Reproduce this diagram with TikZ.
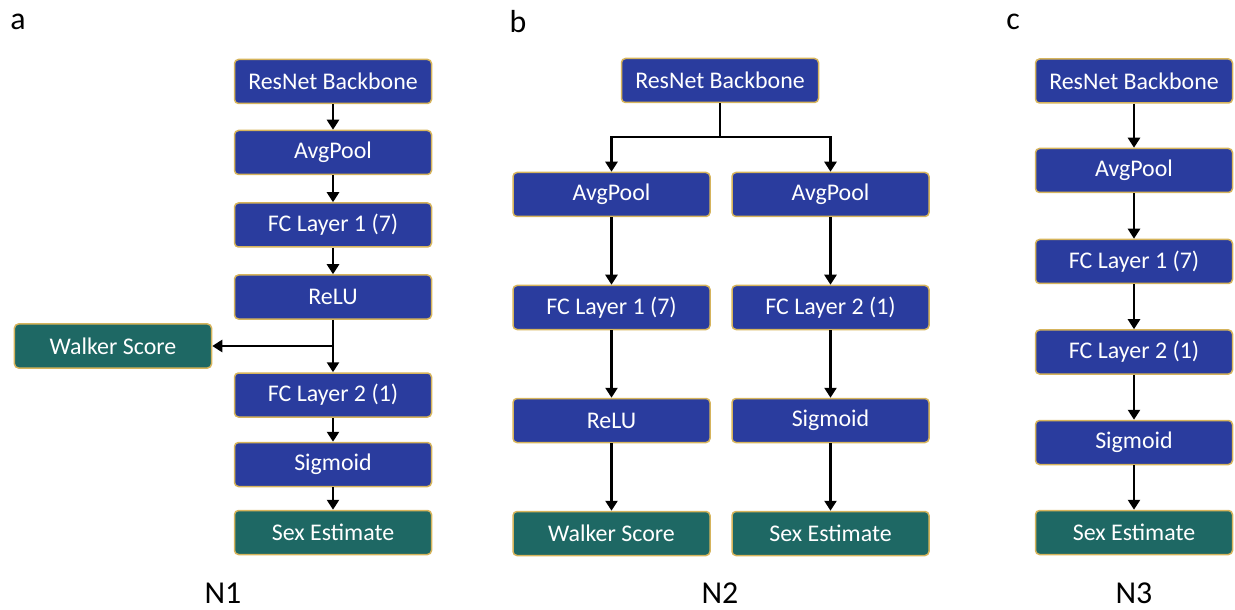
\documentclass[tikz,border=0pt]{standalone}
\usepackage{fontspec}
\setmainfont{Carlito}
\usetikzlibrary{arrows.meta}
\definecolor{boxblue}{RGB}{42,60,158}
\definecolor{boxteal}{RGB}{30,104,100}
\definecolor{boxrim}{RGB}{214,180,92}
\tikzset{
  blk/.style={draw=boxrim, line width=1.5bp, rounded corners=4bp, text=white,
    minimum height=44bp, minimum width=197bp, inner sep=0pt, font=\fontsize{24}{26}\selectfont},
  bbox/.style={blk, fill=boxblue},
  tbox/.style={blk, fill=boxteal},
  arr/.style={line width=2.5bp, -{Triangle[width=12bp,length=10bp]}},
  ln/.style={line width=2.5bp},
  panel/.style={font=\fontsize{32}{34}\selectfont, text=black},
}
\begin{document}
\begin{tikzpicture}[x=1bp,y=-1bp]
\useasboundingbox (0,0) rectangle (1235,610);
% panel a
\node[panel] (la) at (18,22) {a};
\node[bbox] (a1) at (333,81.5) {ResNet Backbone};
\node[bbox] (a2) at (333,152.5) {AvgPool};
\node[bbox] (a3) at (333,225) {FC Layer 1 (7)};
\node[bbox] (a4) at (333,297) {ReLU};
\node[tbox] (aw) at (113,346) {Walker Score};
\node[bbox] (a5) at (333,395) {FC Layer 2 (1)};
\node[bbox] (a6) at (333,464.5) {Sigmoid};
\node[tbox] (a7) at (333,532.5) {Sex Estimate};
\node[panel] (na) at (223,593) {N1};
\draw[arr] (a1) -- (a2);
\draw[arr] (a2) -- (a3);
\draw[arr] (a3) -- (a4);
\draw[arr] (a4) -- (a5);
\coordinate (aj) at (333,346);
\draw[arr] (aj) -- (aw);
\draw[arr] (a5) -- (a6);
\draw[arr] (a6) -- (a7);
% panel b
\node[panel] (lb) at (518,22) {b};
\node[bbox] (b0) at (720,80.5) {ResNet Backbone};
\node[bbox] (b1) at (611.5,194.5) {AvgPool};
\node[bbox] (b2) at (611.5,307.5) {FC Layer 1 (7)};
\node[bbox] (b3) at (611.5,420.5) {ReLU};
\node[tbox] (b4) at (611.5,533.5) {Walker Score};
\node[bbox] (c1) at (830.5,194.5) {AvgPool};
\node[bbox] (c2) at (830.5,307.5) {FC Layer 2 (1)};
\node[bbox] (c3) at (830.5,420.5) {Sigmoid};
\node[tbox] (c4) at (830.5,533.5) {Sex Estimate};
\node[panel] (nb) at (720,593) {N2};
\coordinate (bj) at (720,137);
\draw[ln] (b0) -- (bj);
\draw[arr] (bj) -| (b1);
\draw[arr] (bj) -| (c1);
\draw[arr] (b1) -- (b2);
\draw[arr] (b2) -- (b3);
\draw[arr] (b3) -- (b4);
\draw[arr] (c1) -- (c2);
\draw[arr] (c2) -- (c3);
\draw[arr] (c3) -- (c4);
% panel c
\node[panel] (lc) at (1013,22) {c};
\node[bbox] (d1) at (1134,81) {ResNet Backbone};
\node[bbox] (d2) at (1134,170.5) {AvgPool};
\node[bbox] (d3) at (1134,261.5) {FC Layer 1 (7)};
\node[bbox] (d4) at (1134,352) {FC Layer 2 (1)};
\node[bbox] (d5) at (1134,442.5) {Sigmoid};
\node[tbox] (d6) at (1134,532.5) {Sex Estimate};
\node[panel] (nc) at (1134,593) {N3};
\draw[arr] (d1) -- (d2);
\draw[arr] (d2) -- (d3);
\draw[arr] (d3) -- (d4);
\draw[arr] (d4) -- (d5);
\draw[arr] (d5) -- (d6);
\end{tikzpicture}
\end{document}
